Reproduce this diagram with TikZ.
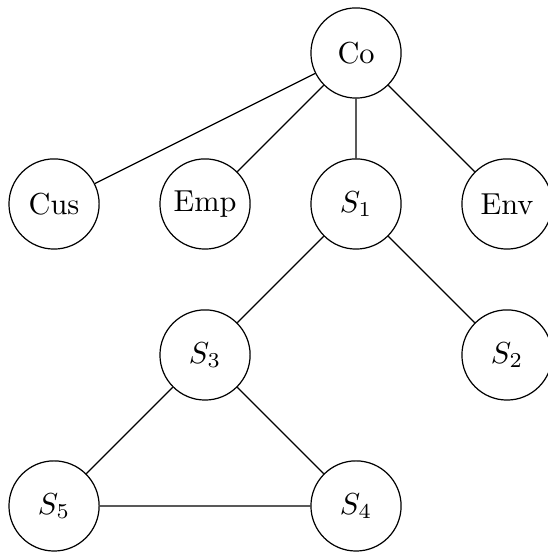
\documentclass[tikz,border=0pt]{standalone}
\usepackage{amsmath}
\usepackage{tikz}

\tikzset{unit/.style={draw,circle,minimum size=1.045cm,inner sep=1pt}}

\begin{document}
\begin{tikzpicture}[x=1.75cm,y=1.75cm]
		\useasboundingbox (-0.358,-0.305) rectangle (3.265,3.351);
		\node[unit] (co) at (2,3) {Co};
		\node[unit] (cus) at (0,2) {Cus};
		\node[unit] (emp) at (1,2) {Emp};
		\node[unit] (s1) at (2,2) {$S_1$};
		\node[unit] (env) at (3,2) {Env};
		\node[unit] (s3) at (1,1) {$S_3$};
		\node[unit] (s2) at (3,1) {$S_2$};
		\node[unit] (s5) at (0,0) {$S_5$};
		\node[unit] (s4) at (2,0) {$S_4$};
		\draw (co) -- (cus) (co) -- (emp) (co) -- (s1) (co) -- (env);
		\draw (s1) -- (s3) (s1) -- (s2);
		\draw (s3) -- (s5) (s3) -- (s4) (s5) -- (s4);
		\end{tikzpicture}
\end{document}
